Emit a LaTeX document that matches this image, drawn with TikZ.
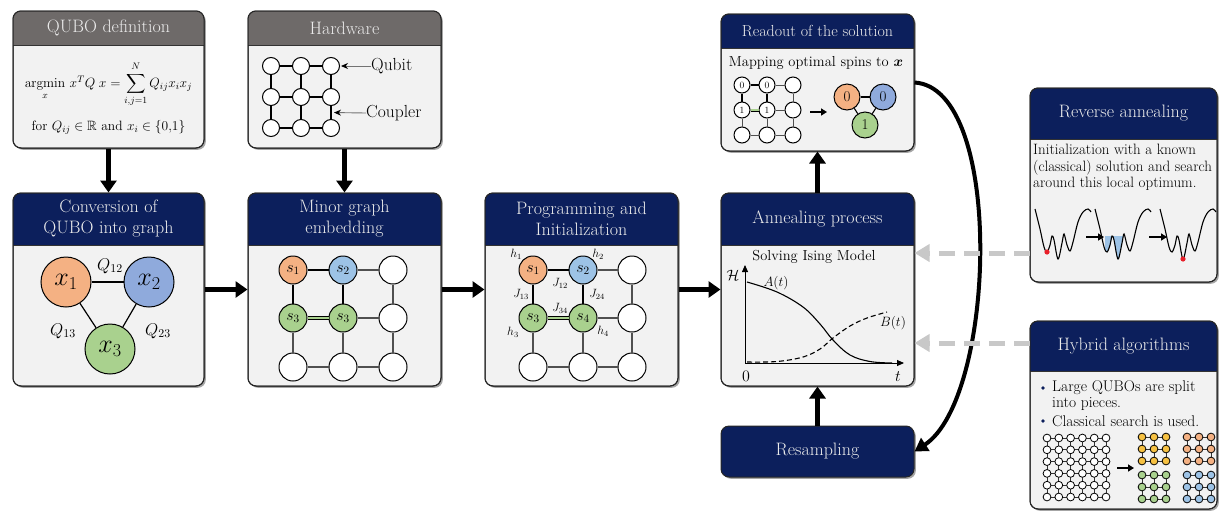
\RequirePackage{fix-cm}
\documentclass[tikz,border=0pt]{standalone}
\usepackage{amsmath,amssymb}
\usetikzlibrary{arrows.meta,shadows,fit,calc}

\definecolor{navy}{HTML}{0C1F5C}
\definecolor{hgray}{HTML}{6E6A69}
\definecolor{bodyg}{HTML}{F2F2F2}
\definecolor{qorange}{HTML}{F4B183}
\definecolor{qblue}{HTML}{8FAADC}
\definecolor{qlblue}{HTML}{9DC3E6}
\definecolor{qgreen}{HTML}{A9D18E}
\definecolor{qyellow}{HTML}{F6C142}
\definecolor{dgray}{HTML}{C8C8C8}
\definecolor{edgeg}{HTML}{505050}
\definecolor{redot}{HTML}{E8202A}

\tikzset{
  panelbox/.style={draw=black!85, line width=1pt, fill=bodyg, rounded corners=8pt, inner sep=0pt,
    drop shadow={shadow xshift=1.8pt, shadow yshift=-1.8pt, opacity=0.35, fill=black}},
  resbox/.style={draw=black!85, line width=1pt, fill=navy, rounded corners=8pt, inner sep=0pt,
    drop shadow={shadow xshift=1.8pt, shadow yshift=-1.8pt, opacity=0.35, fill=black}},
  headtext/.style={text=white!92!black, font=\fontsize{18}{21}\selectfont, align=center, inner sep=0pt},
  flow/.style={line width=4.5pt, -{Triangle[length=12pt,width=16pt]}},
  grayflow/.style={draw=dgray, line width=5pt, dash pattern=on 16pt off 9pt, -{Triangle[length=15pt,width=17pt]}},
  qubit/.style={circle, draw=black, line width=1pt, fill=white, inner sep=0pt},
  spin/.style={qubit, minimum size=28pt, font=\fontsize{16}{18}\selectfont},
  thinedge/.style={draw=edgeg, line width=1.2pt},
  chain/.style={draw=black, line width=2.2pt},
  dchain/.style={draw=black, line width=0.9pt, double=qgreen, double distance=2.2pt},
  pointer/.style={draw=black!55, line width=0.9pt, -{Stealth[length=7pt,width=6pt,color=black]}},
  bodytext/.style={font=\fontsize{14.5}{17}\selectfont, inner sep=0pt},
  smalllab/.style={font=\fontsize{12}{14}\selectfont, inner sep=0pt},
}

\newcommand\panel[7]{%
  \node[panelbox, fit={(#2,#3) (#4,#5)}] (#1) {};
  \begin{scope}
    \clip[rounded corners=8pt] (#2,#3) rectangle (#4,#5);
    \fill[#7] (#2,#3) rectangle (#4,#6);
  \end{scope}
  \draw[black!80, line width=0.8pt] (#2,#6) -- (#4,#6);
  \draw[black!85, line width=1pt, rounded corners=8pt] (#2,#3) rectangle (#4,#5);
}

\begin{document}
\begin{tikzpicture}[x=1pt,y=-1pt]
\useasboundingbox (0,0) rectangle (1220,512);

% ---------- panels ----------
\panel{qubo}{13}{11}{204}{148}{45}{hgray}
\panel{hw}{248}{11}{441}{148}{45}{hgray}
\panel{conv}{13}{193}{204}{386}{245}{navy}
\panel{minor}{248}{193}{441}{386}{245}{navy}
\panel{prog}{485}{193}{678}{386}{245}{navy}
\panel{anneal}{721}{193}{914}{386}{245}{navy}
\panel{readout}{721}{14}{914}{151}{48}{navy}
\panel{revann}{1030}{88}{1217}{282}{139}{navy}
\panel{hybrid}{1030}{321}{1217}{509}{371}{navy}
\node[resbox, fit={(721,426) (914,477)}] (resamp) {};

% ---------- titles ----------
\node[headtext] (qubo-t) at (108.5,28) {QUBO definition};
\node[headtext] (hw-t) at (344.5,28) {Hardware};
\node[headtext] (conv-t) at (108.5,219) {Conversion of\\QUBO into graph};
\node[headtext] (minor-t) at (344.5,219) {Minor graph\\embedding};
\node[headtext] (prog-t) at (581.5,219) {Programming and\\Initialization};
\node[headtext] (anneal-t) at (817.5,219) {Annealing process};
\node[headtext, font=\fontsize{16}{19}\selectfont] (readout-t) at (817.5,31) {Readout of the solution};
\node[headtext] (revann-t) at (1123.5,113) {Reverse annealing};
\node[headtext] (hybrid-t) at (1123.5,346) {Hybrid algorithms};
\node[headtext] (resamp-t) at (resamp.center) {Resampling};

% ---------- QUBO definition ----------
\node[font=\fontsize{13.5}{16}\selectfont, inner sep=0pt] (qubo-eq) at (108.5,84)
  {$\displaystyle \mathop{\mathrm{argmin}}_{x}\, x^{T}Q\;x=\sum_{i,j=1}^{\rule[-3pt]{0pt}{1pt}N}Q_{ij}x_ix_j$};
\node[font=\fontsize{13.5}{16}\selectfont, inner sep=0pt] (qubo-cond) at (108.5,127)
  {for $Q_{ij}\in\mathbb{R}$ and $x_i\in\{0{,}1\}$};

% ---------- Hardware ----------
\foreach \i/\y in {1/66,2/97,3/128}{
  \foreach \j/\x in {1/271,2/301,3/331}{
    \node[qubit, minimum size=17pt] (hw-\i-\j) at (\x,\y) {};
  }}
\foreach \i in {1,2,3}{
  \draw[line width=1.1pt] (hw-\i-1) -- (hw-\i-2);
  \draw[line width=1.1pt] (hw-\i-2) -- (hw-\i-3);
  \draw[line width=1.1pt] (hw-1-\i) -- (hw-2-\i);
  \draw[line width=1.1pt] (hw-2-\i) -- (hw-3-\i);
}
\node[font=\fontsize{17.5}{19}\selectfont, anchor=west, inner sep=0pt] (qubit-l) at (371,66) {Qubit};
\node[font=\fontsize{17.5}{19}\selectfont, anchor=west, inner sep=0pt] (coupler-l) at (366,113) {Coupler};
\coordinate (coupler) at ($(hw-2-3)!0.5!(hw-3-3)$);
\draw[pointer, shorten >=1pt] (qubit-l.west) -- (hw-1-3.east);
\draw[pointer, shorten >=3pt] (coupler-l.west) -- (coupler);

% ---------- Conversion ----------
\begin{scope}[font=\fontsize{26}{28}\selectfont]
\node[qubit, minimum size=50pt, fill=qorange] (c1) at (66,282) {$x_1$};
\node[qubit, minimum size=50pt, fill=qblue] (c2) at (149,282) {$x_2$};
\node[qubit, minimum size=50pt, fill=qgreen] (c3) at (110,349) {$x_3$};
\end{scope}
\draw[line width=1.2pt] (c1) -- (c2);
\draw[line width=1.2pt] (c1) -- (c3);
\draw[line width=1.2pt] (c2) -- (c3);
\node[font=\fontsize{17}{19}\selectfont, inner sep=0pt] (q12) at (110,266) {$Q_{12}$};
\node[font=\fontsize{17}{19}\selectfont, inner sep=0pt] (q13) at (63,331) {$Q_{13}$};
\node[font=\fontsize{17}{19}\selectfont, inner sep=0pt] (q23) at (158,331) {$Q_{23}$};

% ---------- Minor embedding ----------
\foreach \i/\j/\x/\y/\c/\t in {1/1/293/270/qorange/s_1, 1/2/343/270/qlblue/s_2, 1/3/393/270/white/,
  2/1/293/318/qgreen/s_3, 2/2/343/318/qgreen/s_3, 2/3/393/318/white/,
  3/1/293/367/white/, 3/2/343/367/white/, 3/3/393/367/white/}{
  \node[spin, fill=\c] (m-\i-\j) at (\x,\y) {$\t$};
}
\draw[chain] (m-1-1) -- (m-1-2);
\draw[chain] (m-1-1) -- (m-2-1);
\draw[chain] (m-1-2) -- (m-2-2);
\draw[dchain] (m-2-1) -- (m-2-2);
\foreach \a/\b in {1-2/1-3, 2-2/2-3, 3-1/3-2, 3-2/3-3, 2-1/3-1, 2-2/3-2, 1-3/2-3, 2-3/3-3}{
  \draw[thinedge] (m-\a) -- (m-\b);
}

% ---------- Programming ----------
\foreach \i/\j/\x/\y/\c/\t in {1/1/533/270/qorange/s_1, 1/2/583/270/qlblue/s_2, 1/3/632/270/white/,
  2/1/533/318/qgreen/s_3, 2/2/583/318/qgreen/s_4, 2/3/632/318/white/,
  3/1/533/367/white/, 3/2/583/367/white/, 3/3/632/367/white/}{
  \node[spin, fill=\c] (p-\i-\j) at (\x,\y) {$\t$};
}
\draw[chain] (p-1-1) -- (p-1-2);
\draw[chain] (p-1-1) -- (p-2-1);
\draw[chain] (p-1-2) -- (p-2-2);
\draw[dchain] (p-2-1) -- (p-2-2);
\foreach \a/\b in {1-2/1-3, 2-2/2-3, 3-1/3-2, 3-2/3-3, 2-1/3-1, 2-2/3-2, 1-3/2-3, 2-3/3-3}{
  \draw[thinedge] (p-\a) -- (p-\b);
}
\node[smalllab] (h1) at (516,254) {$h_1$};
\node[smalllab] (h2) at (598,254) {$h_2$};
\node[smalllab] (h3) at (513,332) {$h_3$};
\node[smalllab] (h4) at (603,331) {$h_4$};
\node[smalllab] (j12) at (560,283) {$J_{12}$};
\node[smalllab] (j13) at (521,294) {$J_{13}$};
\node[smalllab] (j24) at (597,294) {$J_{24}$};
\node[smalllab] (j34) at (560,308) {$J_{34}$};

% ---------- Annealing ----------
\node[bodytext] (solving) at (814,257) {Solving Ising Model};
\coordinate (ax-o) at (745,363);
\coordinate (ax-y) at (745,265);
\coordinate (ax-x) at (904,363);
\draw[line width=0.9pt, -{Triangle[length=7pt,width=6pt]}] (ax-o) -- (ax-y);
\draw[line width=0.9pt, -{Triangle[length=7pt,width=6pt]}] (ax-o) -- (ax-x);
\draw[line width=1.1pt] plot[smooth, tension=0.6] coordinates {(747,282) (777,292) (803,307) (820,324) (833,340) (850,355) (870,361.5) (892,363)};
\draw[line width=1.1pt, dash pattern=on 5pt off 3pt] plot[smooth, tension=0.6] coordinates {(747,362) (777,361.5) (803,357) (820,349) (833,338) (850,326) (867,318) (887,312)};
\node[font=\fontsize{15}{17}\selectfont, inner sep=0pt] (hlab) at (733,275) {$\mathcal{H}$};
\node[font=\fontsize{13.5}{16}\selectfont, inner sep=0pt] (alab) at (776,283) {$A(t)$};
\node[font=\fontsize{13.5}{16}\selectfont, inner sep=0pt] (blab) at (893,323) {$B(t)$};
\node[font=\fontsize{16}{17}\selectfont, inner sep=0pt] (zlab) at (746,376) {$0$};
\node[font=\fontsize{16}{17}\selectfont, inner sep=0pt] (tlab) at (898,377) {$t$};

% ---------- Readout ----------
\node[bodytext] (mapping) at (816,63) {Mapping optimal spins to $\boldsymbol{x}$};
\foreach \i/\j/\x/\y/\c/\t in {1/1/742/85/qorange/0, 1/2/767/85/qlblue/0, 1/3/793/85/white/,
  2/1/742/110/qgreen/1, 2/2/767/110/qgreen/1, 2/3/793/110/white/,
  3/1/742/135/white/, 3/2/767/135/white/, 3/3/793/135/white/}{
  \node[qubit, minimum size=16pt, font=\fontsize{9.5}{10}\selectfont] (r-\i-\j) at (\x,\y) {\t};
}
\draw[black, line width=1.8pt] (r-1-1) -- (r-1-2);
\draw[black, line width=1.8pt] (r-1-1) -- (r-2-1);
\draw[black, line width=1.8pt] (r-1-2) -- (r-2-2);
\draw[black, line width=0.7pt, double=qgreen, double distance=1.6pt] (r-2-1) -- (r-2-2);
\foreach \a/\b in {1-2/1-3, 2-2/2-3, 3-1/3-2, 3-2/3-3, 2-1/3-1, 2-2/3-2, 1-3/2-3, 2-3/3-3}{
  \draw[edgeg, line width=1pt] (r-\a) -- (r-\b);
}
\coordinate (rarr-s) at (810,112);
\coordinate (rarr-e) at (827,112);
\draw[line width=1.8pt, -{Triangle[length=6pt,width=7pt]}] (rarr-s) -- (rarr-e);
\begin{scope}[font=\fontsize{15}{16}\selectfont]
\node[qubit, minimum size=26pt, fill=qorange] (t1) at (847,97) {0};
\node[qubit, minimum size=26pt, fill=qblue] (t2) at (883,97) {0};
\node[qubit, minimum size=26pt, fill=qgreen] (t3) at (865,125) {1};
\end{scope}
\draw[line width=1.1pt] (t1) -- (t2);
\draw[line width=1.1pt] (t1) -- (t3);
\draw[line width=1.1pt] (t2) -- (t3);

% ---------- Reverse annealing ----------
\node[font=\fontsize{15}{16.5}\selectfont, align=left, anchor=north west, inner sep=0pt] (ra-text) at (1033,144)
  {Initialization with a known\\(classical) solution and search\\around this local optimum.};
\begin{scope}[shift={(1095,209)}]
  \clip (10,27) rectangle (29,60);
  \fill[qlblue] plot[smooth, tension=0.55] coordinates {(0,0) (5,20) (9,38) (12,43) (15,36) (17,27) (19,31) (23,50) (27,34) (29,25) (32,36) (35,42) (38,33) (43,13) (48,3) (53,0) (56,3)} -- (56,-10) -- (0,-10) -- cycle;
\end{scope}
\foreach \sx in {1035,1095,1160}{
  \draw[line width=1.1pt, shift={(\sx,209)}] plot[smooth, tension=0.55] coordinates {(0,0) (5,20) (9,38) (12,43) (15,36) (17,27) (19,31) (23,50) (27,34) (29,25) (32,36) (35,42) (38,33) (43,13) (48,3) (53,0) (56,3)};
}
\fill[redot] (1047,252) circle (2.6pt);
\fill[redot] (1183,259) circle (2.6pt);
\coordinate (ra1-s) at (1086,237);
\coordinate (ra1-e) at (1104,237);
\coordinate (ra2-s) at (1149,237);
\coordinate (ra2-e) at (1167,237);
\draw[line width=1.8pt, -{Triangle[length=6pt,width=7pt]}] (ra1-s) -- (ra1-e);
\draw[line width=1.8pt, -{Triangle[length=6pt,width=7pt]}] (ra2-s) -- (ra2-e);

% ---------- Hybrid ----------
\fill[navy] (1043,388) circle (1.9pt);
\fill[navy] (1043,421) circle (1.9pt);
\node[font=\fontsize{15.5}{16}\selectfont, anchor=west, inner sep=0pt] (hy1) at (1052,388) {Large QUBOs are split};
\node[font=\fontsize{15.5}{16}\selectfont, anchor=west, inner sep=0pt] (hy2) at (1052,404) {into pieces.};
\node[font=\fontsize{15.5}{16}\selectfont, anchor=west, inner sep=0pt] (hy3) at (1052,421) {Classical search is used.};
\foreach \a in {0,...,5}{
  \draw[black!80, line width=0.8pt] (1047,438+11.8*\a) -- (1106,438+11.8*\a);
  \draw[black!80, line width=0.8pt] (1047+11.8*\a,438) -- (1047+11.8*\a,497);
}
\foreach \a in {0,...,5}{
  \foreach \b in {0,...,5}{
    \draw[line width=0.8pt, fill=white] (1047+11.8*\a,438+11.8*\b) circle (3.9pt);
  }}
\coordinate (hy-s) at (1117,468);
\coordinate (hy-e) at (1134,468);
\draw[line width=1.8pt, -{Triangle[length=6pt,width=7pt]}] (hy-s) -- (hy-e);
\foreach \ox/\oy/\col in {1142/437/qyellow, 1187/437/qorange, 1142/475/qgreen, 1187/475/qlblue}{
  \foreach \a in {0,1,2}{
    \draw[black!80, line width=0.8pt] (\ox,\oy+12*\a) -- (\ox+24,\oy+12*\a);
    \draw[black!80, line width=0.8pt] (\ox+12*\a,\oy) -- (\ox+12*\a,\oy+24);
  }
  \foreach \a in {0,1,2}{
    \foreach \b in {0,1,2}{
      \draw[line width=0.8pt, fill=\col] (\ox+12*\a,\oy+12*\b) circle (3.9pt);
    }}
}

% ---------- connectors ----------
\draw[flow] (qubo.south) -- (conv.north);
\draw[flow] (hw.south) -- (minor.north);
\draw[flow] (conv.east) -- (minor.west);
\draw[flow] (minor.east) -- (prog.west);
\draw[flow] (prog.east) -- (anneal.west);
\draw[flow] (anneal.north) -- (readout.south);
\draw[flow] (resamp.north) -- (anneal.south);
\draw[line width=4pt, -{Triangle[length=13pt,width=15pt]}] (readout.east) .. controls (1005,88) and (996,398) .. (resamp.east);
\coordinate (ra-out) at (revann.west |- 0,253);
\coordinate (hy-out) at (hybrid.west |- 0,343);
\draw[grayflow] (ra-out) -- (anneal.east |- ra-out);
\draw[grayflow] (hy-out) -- (anneal.east |- hy-out);
\end{tikzpicture}
\end{document}
